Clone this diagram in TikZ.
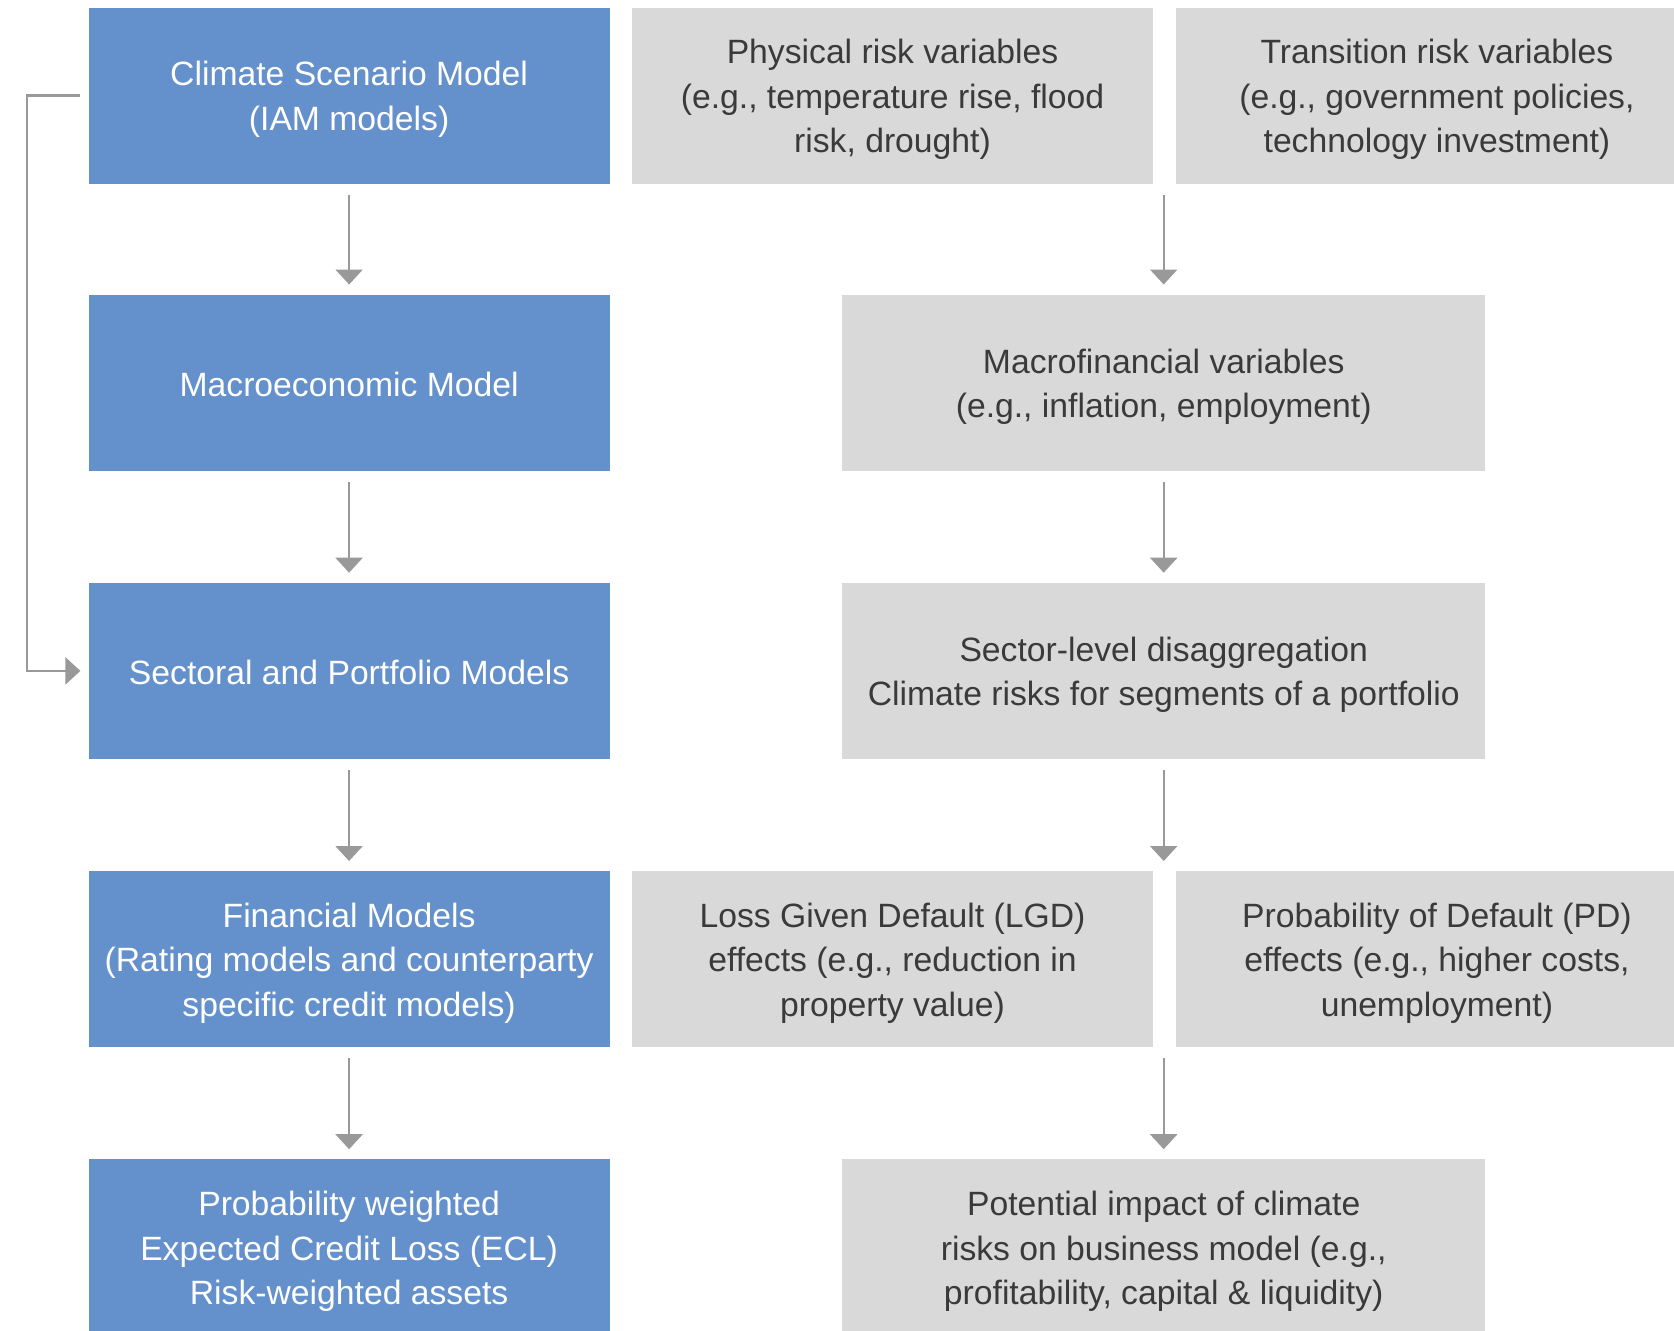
\documentclass[tikz,border=0pt]{standalone}
\usepackage{fontspec}
\setmainfont{Liberation Sans}
\usetikzlibrary{arrows.meta}
\definecolor{cblue}{HTML}{6490CB}
\definecolor{cgray}{HTML}{D9D9D9}
\definecolor{ctext}{HTML}{3A3A3A}
\definecolor{carrow}{HTML}{999999}
\begin{document}
\begin{tikzpicture}[x=1pt,y=-1pt,
  box/.style={rectangle, draw=none, inner sep=0pt, minimum height=176pt},
  bluebox/.style={box, fill=cblue, minimum width=521pt},
  graybox/.style={box, fill=cgray, minimum width=521pt},
  widegray/.style={box, fill=cgray, minimum width=643pt},
  txt/.style={inner sep=0pt, align=center, font=\fontsize{33.7}{44.5}\selectfont},
  btxt/.style={txt, text=white},
  gtxt/.style={txt, text=ctext},
  arr/.style={draw=carrow, line width=2.4pt, -{Triangle[length=15pt,width=27pt]}},
  down/.style={arr, shorten <=11pt, shorten >=10pt}]
\useasboundingbox (0,0) rectangle (1674,1331);
\clip (0,0) rectangle (1674,1331);
\fill[white] (0,0) rectangle (1674,1331);
% left column boxes
\node[bluebox] (c1) at (349.1,95.5) {};
\node[bluebox] (c2) at (349.1,382.7) {};
\node[bluebox] (c3) at (349.1,670.9) {};
\node[bluebox] (c4) at (349.1,959.2) {};
\node[bluebox] (c5) at (349.1,1247.4) {};
% right side boxes
\node[graybox] (phys) at (892.5,95.5) {};
\node[graybox] (trans) at (1436.9,95.5) {};
\node[widegray] (macro) at (1163.7,382.7) {};
\node[widegray] (sector) at (1163.7,670.9) {};
\node[graybox] (lgd) at (892.5,959.2) {};
\node[graybox] (pd) at (1436.9,959.2) {};
\node[widegray] (impact) at (1163.7,1247.4) {};
% texts
\node[btxt] (c1t) at ([yshift=-4pt]c1.center) {Climate Scenario Model\\(IAM models)};
\node[btxt] (c2t) at ([yshift=-1.5pt]c2.center) {Macroeconomic Model};
\node[btxt] (c3t) at ([yshift=-1.5pt]c3.center) {Sectoral and Portfolio Models};
\node[btxt] (c4t) at ([yshift=-4pt]c4.center) {Financial Models\\(Rating models and counterparty\\specific credit models)};
\node[btxt] (c5t) at ([yshift=-4pt]c5.center) {Probability weighted\\Expected Credit Loss (ECL)\\Risk-weighted assets};
\node[gtxt] (physt) at ([yshift=-4pt]phys.center) {Physical risk variables\\(e.g., temperature rise, flood\\risk, drought)};
\node[gtxt] (transt) at ([yshift=-4pt]trans.center) {Transition risk variables\\(e.g., government policies,\\technology investment)};
\node[gtxt] (macrot) at ([yshift=-4pt]macro.center) {Macrofinancial variables\\(e.g., inflation, employment)};
\node[gtxt] (sectort) at ([yshift=-4pt]sector.center) {Sector-level disaggregation\\Climate risks for segments of a portfolio};
\node[gtxt] (lgdt) at ([yshift=-4pt]lgd.center) {Loss Given Default (LGD)\\effects (e.g., reduction in\\property value)};
\node[gtxt] (pdt) at ([yshift=-4pt]pd.center) {Probability of Default (PD)\\effects (e.g., higher costs,\\unemployment)};
\node[gtxt] (impactt) at ([yshift=-4pt]impact.center) {Potential impact of climate\\risks on business model (e.g.,\\profitability, capital \& liquidity)};
% gap coordinates between paired boxes
\coordinate (gap1) at (1163.7,183.5);
\coordinate (gap4) at (1163.7,1047.3);
% arrows
\draw[down] (c1) -- (c2);
\draw[down] (c2) -- (c3);
\draw[down] (c3) -- (c4);
\draw[down] (c4) -- (c5);
\draw[arr, shorten >=10pt] ([yshift=-11pt]gap1) -- (macro.north);
\draw[down] (macro) -- (sector);
\draw[down] (sector.south) -- (sector.south |- lgd.north);
\draw[arr, shorten >=10pt] ([yshift=-11pt]gap4) -- (impact.north);
% feedback bracket
\coordinate (bk) at (26.7,95.5);
\draw[arr] ([xshift=-8pt]c1.west) -- (bk) |- ([xshift=-8pt]c3.west);
\end{tikzpicture}
\end{document}
